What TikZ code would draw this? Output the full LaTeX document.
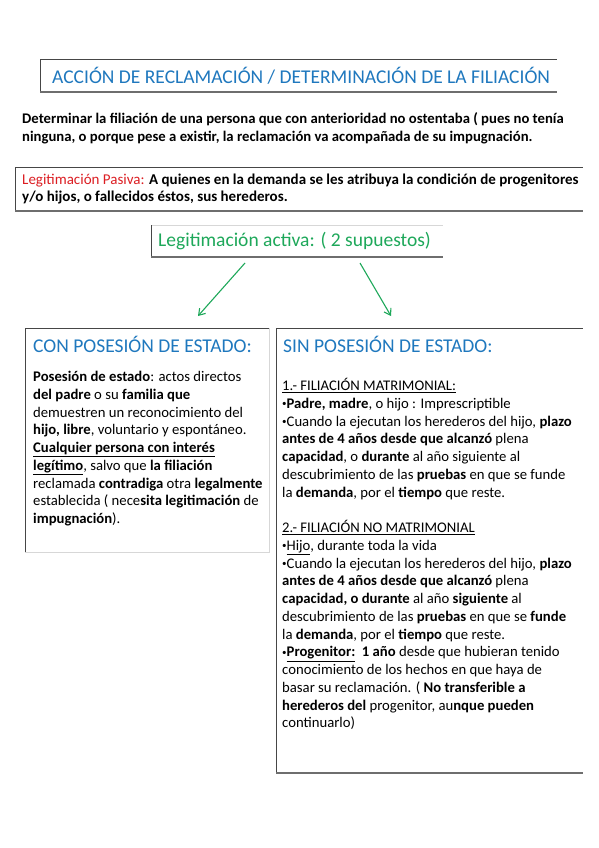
\documentclass[tikz,border=0pt]{standalone}
\usepackage{fontspec}
\setmainfont{Carlito}
\usetikzlibrary{arrows.meta}
\definecolor{tblue}{RGB}{31,120,190}
\definecolor{tgreen}{RGB}{30,168,90}
\definecolor{tred}{RGB}{220,30,35}
\definecolor{edge}{RGB}{70,70,70}
\definecolor{shadow}{RGB}{110,110,110}
\definecolor{faint}{RGB}{215,215,215}
\newcommand{\bul}{\raisebox{0.25ex}{\fontsize{9}{9}\selectfont•}}
\tikzset{
  edgeline/.style={draw=edge, line width=0.9pt},
  shadowline/.style={draw=shadow, line width=1.6pt},
  faintline/.style={draw=faint, line width=0.8pt},
  body/.style={inner sep=0pt, anchor=north west, align=left, font=\fontsize{14.7}{17.75}\selectfont},
  heading/.style={inner sep=0pt, anchor=west, text=tblue, font=\fontsize{19.5}{22}\selectfont},
  garrow/.style={draw=tgreen, line width=1.1pt, -{Straight Barb[length=6pt,width=8pt]}}
}
\begin{document}
\begin{tikzpicture}[x=1pt,y=-1pt]
\useasboundingbox[fill=white] (0,0) rectangle (599,848);
% box frames as coordinates
\coordinate (t1) at (40,59);  \coordinate (t2) at (557,92);
\coordinate (p1) at (15,167); \coordinate (p2) at (583,211);
\coordinate (a1) at (151,225); \coordinate (a2) at (443,257);
\coordinate (l1) at (25,328); \coordinate (l2) at (269,552);
\coordinate (r1) at (276,328); \coordinate (r2) at (583,773);
% title box
\draw[edgeline] (t1 |- t2) -- (t1) -- (t2 |- t1);
\draw[shadowline] (t1 |- t2) -- (t2);
\node[heading] (title) at (52,76) {ACCIÓN DE RECLAMACIÓN / DETERMINACIÓN DE LA FILIACIÓN};
% definition paragraph
\node[body] (def) at (22,111) {\strut\bfseries Determinar la filiación de una persona que con anterioridad no ostentaba ( pues no tenía\\ \bfseries ninguna, o porque pese a existir, la reclamación va acompañada de su impugnación.};
% pasiva box
\draw[edgeline] (p1 |- p2) -- (p1) -- (p2 |- p1);
\draw[shadowline] (p1 |- p2) -- (p2);
\node[body, font=\fontsize{15}{17}\selectfont] (pas) at (22,172) {\strut{\color{tred}Legitimación Pasiva:} \textbf{A quienes en la demanda se les atribuya la condición de progenitores}\\ \textbf{y/o hijos, o fallecidos éstos, sus herederos.}};
% activa box
\draw[faintline] (a1) -- (a2 |- a1);
\draw[edgeline] (a1) -- (a1 |- a2);
\draw[shadowline] (a1 |- a2) -- (a2);
\node[heading, text=tgreen] (act) at (158,241) {Legitimación activa: ( 2 supuestos)};
% arrows
\coordinate (s1) at (245,263); \coordinate (e1) at (198,316);
\coordinate (s2) at (360,263); \coordinate (e2) at (391,316);
\draw[garrow] (s1) -- (e1);
\draw[garrow] (s2) -- (e2);
% left box
\draw[edgeline] (l1 |- l2) -- (l1) -- (l2 |- l1);
\draw[faintline] (l2 |- l1) -- (l2) -- (l1 |- l2);
\node[heading] (conh) at (33,344) {CON POSESIÓN DE ESTADO:};
\node[body] (conb) at (33,369) {\strut\textbf{Posesión de estado}: actos directos\\
\textbf{del padre} o su \textbf{familia que}\\
demuestren un reconocimiento del\\
\textbf{hijo, libre}, voluntario y espontáneo.\\
\underline{\textbf{Cualquier persona con interés}}\\
\underline{\textbf{legítimo}}, salvo que \textbf{la filiación}\\
reclamada \textbf{contradiga} otra \textbf{legalmente}\\
establecida ( nece\textbf{sita legitimación} de\\
\textbf{impugnación}).};
% right box
\draw[edgeline] (r1 |- r2) -- (r1) -- (r2 |- r1);
\draw[shadowline] (r1 |- r2) -- (r2);
\node[heading] (sinh) at (283,344) {SIN POSESIÓN DE ESTADO:};
\node[body] (sinb) at (282,378) {\strut\underline{1.- FILIACIÓN MATRIMONIAL:}\\
\bul\textbf{Padre, madre}, o hijo : Imprescriptible\\
\bul Cuando la ejecutan los herederos del hijo, \textbf{plazo}\\
\textbf{antes de 4 años desde que alcanzó} plena\\
\textbf{capacidad}, o \textbf{durante} al año siguiente al\\
descubrimiento de las \textbf{pruebas} en que se funde\\
la \textbf{demanda}, por el \textbf{tiempo} que reste.\\[17.75pt]
\underline{2.- FILIACIÓN NO MATRIMONIAL}\\
\bul\underline{Hijo}, durante toda la vida\\
\bul Cuando la ejecutan los herederos del hijo, \textbf{plazo}\\
\textbf{antes de 4 años desde que alcanzó} plena\\
\textbf{capacidad, o durante} al año \textbf{siguiente} al\\
descubrimiento de las \textbf{pruebas} en que se \textbf{funde}\\
la \textbf{demanda}, por el \textbf{tiempo} que reste.\\
\bul\underline{\textbf{Progenitor:}}\ \ \textbf{1 año} desde que hubieran tenido\\
conocimiento de los hechos en que haya de\\
basar su reclamación. ( \textbf{No transferible a}\\
\textbf{herederos del} progenitor, au\textbf{nque pueden}\\
continuarlo)};
\end{tikzpicture}
\end{document}
